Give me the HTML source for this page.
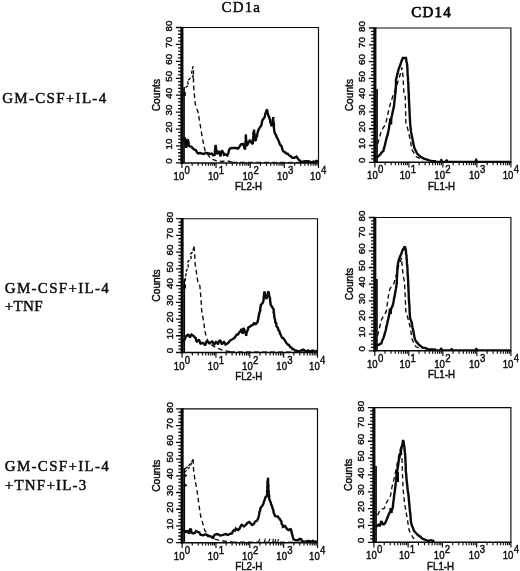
<!DOCTYPE html>
<html lang="en"><head><meta charset="utf-8"><title>Flow cytometry histograms CD1a / CD14</title>
<style>html,body{margin:0;padding:0;background:#fff}body{width:520px;height:571px;overflow:hidden}svg{display:block}</style>
</head><body>
<svg width="520" height="571" viewBox="0 0 520 571">
<rect width="520" height="571" fill="#fff"/>
<text x="221.5" y="12.4" font-family="Liberation Serif, Times New Roman, serif" stroke="#0a0a0a" stroke-width="0.45" font-size="15" letter-spacing="1.15" fill="#0a0a0a">CD1a</text>
<text x="411.2" y="17.0" font-family="Liberation Serif, Times New Roman, serif" stroke="#0a0a0a" stroke-width="0.75" font-size="15" letter-spacing="1.25" fill="#0a0a0a">CD14</text>
<text x="2.2" y="103.0" font-family="Liberation Serif, Times New Roman, serif" stroke="#0a0a0a" stroke-width="0.45" font-size="15" letter-spacing="1.3" fill="#0a0a0a">GM-CSF+IL-4</text>
<text x="4.8" y="292.9" font-family="Liberation Serif, Times New Roman, serif" stroke="#0a0a0a" stroke-width="0.45" font-size="15" letter-spacing="1.3" fill="#0a0a0a">GM-CSF+IL-4</text>
<text x="4.8" y="311.0" font-family="Liberation Serif, Times New Roman, serif" stroke="#0a0a0a" stroke-width="0.45" font-size="15" letter-spacing="0.3" fill="#0a0a0a">+TNF</text>
<text x="4.8" y="471.0" font-family="Liberation Serif, Times New Roman, serif" stroke="#0a0a0a" stroke-width="0.45" font-size="15" letter-spacing="1.3" fill="#0a0a0a">GM-CSF+IL-4</text>
<text x="4.8" y="489.5" font-family="Liberation Serif, Times New Roman, serif" stroke="#0a0a0a" stroke-width="0.45" font-size="15" letter-spacing="1.2" fill="#0a0a0a">+TNF+IL-3</text>
<path d="M181.9 27.5 H318.5 V162.9" fill="none" stroke="#0a0a0a" stroke-width="1.15"/>
<path d="M180.4 162.9 H319.0" fill="none" stroke="#0a0a0a" stroke-width="1.5"/>
<path d="M181.9 26.9 V163.6" fill="none" stroke="#0a0a0a" stroke-width="3.1"/>
<rect x="183.2" y="87.0" width="1.7" height="75.9" fill="#0a0a0a"/>
<path d="M175.9 162.90h6.0M178.1 159.52h3.8M178.1 156.13h3.8M178.1 152.75h3.8M178.1 149.36h3.8M175.9 145.97h6.0M178.1 142.59h3.8M178.1 139.21h3.8M178.1 135.82h3.8M178.1 132.44h3.8M175.9 129.05h6.0M178.1 125.67h3.8M178.1 122.28h3.8M178.1 118.90h3.8M178.1 115.51h3.8M175.9 112.12h6.0M178.1 108.74h3.8M178.1 105.36h3.8M178.1 101.97h3.8M178.1 98.59h3.8M175.9 95.20h6.0M178.1 91.81h3.8M178.1 88.43h3.8M178.1 85.05h3.8M178.1 81.66h3.8M175.9 78.28h6.0M178.1 74.89h3.8M178.1 71.50h3.8M178.1 68.12h3.8M178.1 64.73h3.8M175.9 61.35h6.0M178.1 57.97h3.8M178.1 54.58h3.8M178.1 51.19h3.8M178.1 47.81h3.8M175.9 44.42h6.0M178.1 41.04h3.8M178.1 37.66h3.8M178.1 34.27h3.8M178.1 30.88h3.8M175.9 27.50h6.0" fill="none" stroke="#0a0a0a" stroke-width="1.3"/>
<path d="M181.90 162.9v5.2M192.18 162.9v2.9M198.19 162.9v2.9M202.46 162.9v2.9M205.77 162.9v2.9M208.47 162.9v2.9M210.76 162.9v2.9M212.74 162.9v2.9M214.49 162.9v2.9M216.05 162.9v5.2M226.33 162.9v2.9M232.34 162.9v2.9M236.61 162.9v2.9M239.92 162.9v2.9M242.62 162.9v2.9M244.91 162.9v2.9M246.89 162.9v2.9M248.64 162.9v2.9M250.20 162.9v5.2M260.48 162.9v2.9M266.49 162.9v2.9M270.76 162.9v2.9M274.07 162.9v2.9M276.77 162.9v2.9M279.06 162.9v2.9M281.04 162.9v2.9M282.79 162.9v2.9M284.35 162.9v5.2M294.63 162.9v2.9M300.64 162.9v2.9M304.91 162.9v2.9M308.22 162.9v2.9M310.92 162.9v2.9M313.21 162.9v2.9M315.19 162.9v2.9M316.94 162.9v2.9M318.50 162.9v5.2" fill="none" stroke="#0a0a0a" stroke-width="1.15"/>
<text transform="translate(172.4 160.9) rotate(-90)" text-anchor="middle" font-family="Liberation Sans, Arial, sans-serif" stroke="#0a0a0a" stroke-width="0.42" font-size="9.7" letter-spacing="0.1" fill="#0a0a0a">0</text>
<text transform="translate(172.4 144.0) rotate(-90)" text-anchor="middle" font-family="Liberation Sans, Arial, sans-serif" stroke="#0a0a0a" stroke-width="0.42" font-size="9.7" letter-spacing="0.1" fill="#0a0a0a">10</text>
<text transform="translate(172.4 127.1) rotate(-90)" text-anchor="middle" font-family="Liberation Sans, Arial, sans-serif" stroke="#0a0a0a" stroke-width="0.42" font-size="9.7" letter-spacing="0.1" fill="#0a0a0a">20</text>
<text transform="translate(172.4 110.1) rotate(-90)" text-anchor="middle" font-family="Liberation Sans, Arial, sans-serif" stroke="#0a0a0a" stroke-width="0.42" font-size="9.7" letter-spacing="0.1" fill="#0a0a0a">30</text>
<text transform="translate(172.4 93.2) rotate(-90)" text-anchor="middle" font-family="Liberation Sans, Arial, sans-serif" stroke="#0a0a0a" stroke-width="0.42" font-size="9.7" letter-spacing="0.1" fill="#0a0a0a">40</text>
<text transform="translate(172.4 76.3) rotate(-90)" text-anchor="middle" font-family="Liberation Sans, Arial, sans-serif" stroke="#0a0a0a" stroke-width="0.42" font-size="9.7" letter-spacing="0.1" fill="#0a0a0a">50</text>
<text transform="translate(172.4 59.3) rotate(-90)" text-anchor="middle" font-family="Liberation Sans, Arial, sans-serif" stroke="#0a0a0a" stroke-width="0.42" font-size="9.7" letter-spacing="0.1" fill="#0a0a0a">60</text>
<text transform="translate(172.4 42.2) rotate(-90)" text-anchor="middle" font-family="Liberation Sans, Arial, sans-serif" stroke="#0a0a0a" stroke-width="0.42" font-size="9.7" letter-spacing="0.1" fill="#0a0a0a">70</text>
<text transform="translate(172.4 26.1) rotate(-90)" text-anchor="middle" font-family="Liberation Sans, Arial, sans-serif" stroke="#0a0a0a" stroke-width="0.42" font-size="9.7" letter-spacing="0.1" fill="#0a0a0a">80</text>
<text transform="translate(160.1 95.1) rotate(-90)" text-anchor="middle" font-family="Liberation Sans, Arial, sans-serif" stroke="#0a0a0a" stroke-width="0.42" font-size="10.2" fill="#0a0a0a">Counts</text>
<text transform="translate(173.6 180.0) scale(0.9 1)" font-family="Liberation Sans, Arial, sans-serif" stroke="#0a0a0a" stroke-width="0.42" font-size="10.7" fill="#0a0a0a">10<tspan dy="-6.0" dx="0.3" font-size="10.7">0</tspan></text>
<text transform="translate(207.9 180.0) scale(0.9 1)" font-family="Liberation Sans, Arial, sans-serif" stroke="#0a0a0a" stroke-width="0.42" font-size="10.7" fill="#0a0a0a">10<tspan dy="-6.0" dx="0.3" font-size="10.7">1</tspan></text>
<text transform="translate(242.5 180.0) scale(0.9 1)" font-family="Liberation Sans, Arial, sans-serif" stroke="#0a0a0a" stroke-width="0.42" font-size="10.7" fill="#0a0a0a">10<tspan dy="-6.0" dx="0.3" font-size="10.7">2</tspan></text>
<text transform="translate(277.1 180.0) scale(0.9 1)" font-family="Liberation Sans, Arial, sans-serif" stroke="#0a0a0a" stroke-width="0.42" font-size="10.7" fill="#0a0a0a">10<tspan dy="-6.0" dx="0.3" font-size="10.7">3</tspan></text>
<text transform="translate(310.1 180.0) scale(0.9 1)" font-family="Liberation Sans, Arial, sans-serif" stroke="#0a0a0a" stroke-width="0.42" font-size="10.7" fill="#0a0a0a">10<tspan dy="-6.0" dx="0.3" font-size="10.7">4</tspan></text>
<text transform="translate(235.1 190.2) scale(0.935 1)" font-family="Liberation Sans, Arial, sans-serif" stroke="#0a0a0a" stroke-width="0.42" font-size="10.4" fill="#0a0a0a">FL2-H</text>
<path d="M374.9 28.0 H510.9 V162.3" fill="none" stroke="#0a0a0a" stroke-width="1.15"/>
<path d="M373.4 162.3 H511.4" fill="none" stroke="#0a0a0a" stroke-width="1.5"/>
<path d="M374.9 27.4 V163.0" fill="none" stroke="#0a0a0a" stroke-width="3.1"/>
<rect x="376.2" y="89.0" width="1.7" height="73.3" fill="#0a0a0a"/>
<path d="M368.9 162.30h6.0M371.1 158.94h3.8M371.1 155.59h3.8M371.1 152.23h3.8M371.1 148.87h3.8M368.9 145.51h6.0M371.1 142.16h3.8M371.1 138.80h3.8M371.1 135.44h3.8M371.1 132.08h3.8M368.9 128.73h6.0M371.1 125.37h3.8M371.1 122.01h3.8M371.1 118.65h3.8M371.1 115.30h3.8M368.9 111.94h6.0M371.1 108.58h3.8M371.1 105.22h3.8M371.1 101.87h3.8M371.1 98.51h3.8M368.9 95.15h6.0M371.1 91.79h3.8M371.1 88.44h3.8M371.1 85.08h3.8M371.1 81.72h3.8M368.9 78.36h6.0M371.1 75.00h3.8M371.1 71.65h3.8M371.1 68.29h3.8M371.1 64.93h3.8M368.9 61.58h6.0M371.1 58.22h3.8M371.1 54.86h3.8M371.1 51.50h3.8M371.1 48.14h3.8M368.9 44.79h6.0M371.1 41.43h3.8M371.1 38.07h3.8M371.1 34.72h3.8M371.1 31.36h3.8M368.9 28.00h6.0" fill="none" stroke="#0a0a0a" stroke-width="1.3"/>
<path d="M374.90 162.3v5.2M385.14 162.3v2.9M391.12 162.3v2.9M395.37 162.3v2.9M398.66 162.3v2.9M401.36 162.3v2.9M403.63 162.3v2.9M405.61 162.3v2.9M407.34 162.3v2.9M408.90 162.3v5.2M419.14 162.3v2.9M425.12 162.3v2.9M429.37 162.3v2.9M432.66 162.3v2.9M435.36 162.3v2.9M437.63 162.3v2.9M439.61 162.3v2.9M441.34 162.3v2.9M442.90 162.3v5.2M453.14 162.3v2.9M459.12 162.3v2.9M463.37 162.3v2.9M466.66 162.3v2.9M469.36 162.3v2.9M471.63 162.3v2.9M473.61 162.3v2.9M475.34 162.3v2.9M476.90 162.3v5.2M487.14 162.3v2.9M493.12 162.3v2.9M497.37 162.3v2.9M500.66 162.3v2.9M503.36 162.3v2.9M505.63 162.3v2.9M507.61 162.3v2.9M509.34 162.3v2.9M510.90 162.3v5.2" fill="none" stroke="#0a0a0a" stroke-width="1.15"/>
<text transform="translate(365.4 160.3) rotate(-90)" text-anchor="middle" font-family="Liberation Sans, Arial, sans-serif" stroke="#0a0a0a" stroke-width="0.42" font-size="9.7" letter-spacing="0.1" fill="#0a0a0a">0</text>
<text transform="translate(365.4 143.5) rotate(-90)" text-anchor="middle" font-family="Liberation Sans, Arial, sans-serif" stroke="#0a0a0a" stroke-width="0.42" font-size="9.7" letter-spacing="0.1" fill="#0a0a0a">10</text>
<text transform="translate(365.4 126.7) rotate(-90)" text-anchor="middle" font-family="Liberation Sans, Arial, sans-serif" stroke="#0a0a0a" stroke-width="0.42" font-size="9.7" letter-spacing="0.1" fill="#0a0a0a">20</text>
<text transform="translate(365.4 109.9) rotate(-90)" text-anchor="middle" font-family="Liberation Sans, Arial, sans-serif" stroke="#0a0a0a" stroke-width="0.42" font-size="9.7" letter-spacing="0.1" fill="#0a0a0a">30</text>
<text transform="translate(365.4 93.2) rotate(-90)" text-anchor="middle" font-family="Liberation Sans, Arial, sans-serif" stroke="#0a0a0a" stroke-width="0.42" font-size="9.7" letter-spacing="0.1" fill="#0a0a0a">40</text>
<text transform="translate(365.4 76.4) rotate(-90)" text-anchor="middle" font-family="Liberation Sans, Arial, sans-serif" stroke="#0a0a0a" stroke-width="0.42" font-size="9.7" letter-spacing="0.1" fill="#0a0a0a">50</text>
<text transform="translate(365.4 59.6) rotate(-90)" text-anchor="middle" font-family="Liberation Sans, Arial, sans-serif" stroke="#0a0a0a" stroke-width="0.42" font-size="9.7" letter-spacing="0.1" fill="#0a0a0a">60</text>
<text transform="translate(365.4 42.6) rotate(-90)" text-anchor="middle" font-family="Liberation Sans, Arial, sans-serif" stroke="#0a0a0a" stroke-width="0.42" font-size="9.7" letter-spacing="0.1" fill="#0a0a0a">70</text>
<text transform="translate(365.4 26.6) rotate(-90)" text-anchor="middle" font-family="Liberation Sans, Arial, sans-serif" stroke="#0a0a0a" stroke-width="0.42" font-size="9.7" letter-spacing="0.1" fill="#0a0a0a">80</text>
<text transform="translate(353.1 95.1) rotate(-90)" text-anchor="middle" font-family="Liberation Sans, Arial, sans-serif" stroke="#0a0a0a" stroke-width="0.42" font-size="10.2" fill="#0a0a0a">Counts</text>
<text transform="translate(367.1 179.4) scale(0.9 1)" font-family="Liberation Sans, Arial, sans-serif" stroke="#0a0a0a" stroke-width="0.42" font-size="10.7" fill="#0a0a0a">10<tspan dy="-6.0" dx="0.3" font-size="10.7">0</tspan></text>
<text transform="translate(399.7 179.4) scale(0.9 1)" font-family="Liberation Sans, Arial, sans-serif" stroke="#0a0a0a" stroke-width="0.42" font-size="10.7" fill="#0a0a0a">10<tspan dy="-6.0" dx="0.3" font-size="10.7">1</tspan></text>
<text transform="translate(434.3 179.4) scale(0.9 1)" font-family="Liberation Sans, Arial, sans-serif" stroke="#0a0a0a" stroke-width="0.42" font-size="10.7" fill="#0a0a0a">10<tspan dy="-6.0" dx="0.3" font-size="10.7">2</tspan></text>
<text transform="translate(469.0 179.4) scale(0.9 1)" font-family="Liberation Sans, Arial, sans-serif" stroke="#0a0a0a" stroke-width="0.42" font-size="10.7" fill="#0a0a0a">10<tspan dy="-6.0" dx="0.3" font-size="10.7">3</tspan></text>
<text transform="translate(502.7 179.4) scale(0.9 1)" font-family="Liberation Sans, Arial, sans-serif" stroke="#0a0a0a" stroke-width="0.42" font-size="10.7" fill="#0a0a0a">10<tspan dy="-6.0" dx="0.3" font-size="10.7">4</tspan></text>
<text transform="translate(428.1 189.6) scale(0.935 1)" font-family="Liberation Sans, Arial, sans-serif" stroke="#0a0a0a" stroke-width="0.42" font-size="10.4" fill="#0a0a0a">FL1-H</text>
<path d="M182.1 218.7 H317.5 V352.5" fill="none" stroke="#0a0a0a" stroke-width="1.15"/>
<path d="M180.6 352.5 H318.0" fill="none" stroke="#0a0a0a" stroke-width="1.5"/>
<path d="M182.1 218.1 V353.2" fill="none" stroke="#0a0a0a" stroke-width="3.1"/>
<rect x="183.4" y="279.0" width="1.7" height="73.5" fill="#0a0a0a"/>
<path d="M176.1 352.50h6.0M178.3 349.15h3.8M178.3 345.81h3.8M178.3 342.46h3.8M178.3 339.12h3.8M176.1 335.77h6.0M178.3 332.43h3.8M178.3 329.08h3.8M178.3 325.74h3.8M178.3 322.39h3.8M176.1 319.05h6.0M178.3 315.70h3.8M178.3 312.36h3.8M178.3 309.01h3.8M178.3 305.67h3.8M176.1 302.32h6.0M178.3 298.98h3.8M178.3 295.63h3.8M178.3 292.29h3.8M178.3 288.94h3.8M176.1 285.60h6.0M178.3 282.25h3.8M178.3 278.91h3.8M178.3 275.56h3.8M178.3 272.22h3.8M176.1 268.88h6.0M178.3 265.53h3.8M178.3 262.19h3.8M178.3 258.84h3.8M178.3 255.50h3.8M176.1 252.15h6.0M178.3 248.81h3.8M178.3 245.46h3.8M178.3 242.12h3.8M178.3 238.77h3.8M176.1 235.43h6.0M178.3 232.08h3.8M178.3 228.74h3.8M178.3 225.39h3.8M178.3 222.04h3.8M176.1 218.70h6.0" fill="none" stroke="#0a0a0a" stroke-width="1.3"/>
<path d="M182.10 352.5v5.2M192.29 352.5v2.9M198.25 352.5v2.9M202.48 352.5v2.9M205.76 352.5v2.9M208.44 352.5v2.9M210.71 352.5v2.9M212.67 352.5v2.9M214.40 352.5v2.9M215.95 352.5v5.2M226.14 352.5v2.9M232.10 352.5v2.9M236.33 352.5v2.9M239.61 352.5v2.9M242.29 352.5v2.9M244.56 352.5v2.9M246.52 352.5v2.9M248.25 352.5v2.9M249.80 352.5v5.2M259.99 352.5v2.9M265.95 352.5v2.9M270.18 352.5v2.9M273.46 352.5v2.9M276.14 352.5v2.9M278.41 352.5v2.9M280.37 352.5v2.9M282.10 352.5v2.9M283.65 352.5v5.2M293.84 352.5v2.9M299.80 352.5v2.9M304.03 352.5v2.9M307.31 352.5v2.9M309.99 352.5v2.9M312.26 352.5v2.9M314.22 352.5v2.9M315.95 352.5v2.9M317.50 352.5v5.2" fill="none" stroke="#0a0a0a" stroke-width="1.15"/>
<text transform="translate(172.6 350.5) rotate(-90)" text-anchor="middle" font-family="Liberation Sans, Arial, sans-serif" stroke="#0a0a0a" stroke-width="0.42" font-size="9.7" letter-spacing="0.1" fill="#0a0a0a">0</text>
<text transform="translate(172.6 333.8) rotate(-90)" text-anchor="middle" font-family="Liberation Sans, Arial, sans-serif" stroke="#0a0a0a" stroke-width="0.42" font-size="9.7" letter-spacing="0.1" fill="#0a0a0a">10</text>
<text transform="translate(172.6 317.1) rotate(-90)" text-anchor="middle" font-family="Liberation Sans, Arial, sans-serif" stroke="#0a0a0a" stroke-width="0.42" font-size="9.7" letter-spacing="0.1" fill="#0a0a0a">20</text>
<text transform="translate(172.6 300.3) rotate(-90)" text-anchor="middle" font-family="Liberation Sans, Arial, sans-serif" stroke="#0a0a0a" stroke-width="0.42" font-size="9.7" letter-spacing="0.1" fill="#0a0a0a">30</text>
<text transform="translate(172.6 283.6) rotate(-90)" text-anchor="middle" font-family="Liberation Sans, Arial, sans-serif" stroke="#0a0a0a" stroke-width="0.42" font-size="9.7" letter-spacing="0.1" fill="#0a0a0a">40</text>
<text transform="translate(172.6 266.9) rotate(-90)" text-anchor="middle" font-family="Liberation Sans, Arial, sans-serif" stroke="#0a0a0a" stroke-width="0.42" font-size="9.7" letter-spacing="0.1" fill="#0a0a0a">50</text>
<text transform="translate(172.6 250.1) rotate(-90)" text-anchor="middle" font-family="Liberation Sans, Arial, sans-serif" stroke="#0a0a0a" stroke-width="0.42" font-size="9.7" letter-spacing="0.1" fill="#0a0a0a">60</text>
<text transform="translate(172.6 233.2) rotate(-90)" text-anchor="middle" font-family="Liberation Sans, Arial, sans-serif" stroke="#0a0a0a" stroke-width="0.42" font-size="9.7" letter-spacing="0.1" fill="#0a0a0a">70</text>
<text transform="translate(172.6 217.3) rotate(-90)" text-anchor="middle" font-family="Liberation Sans, Arial, sans-serif" stroke="#0a0a0a" stroke-width="0.42" font-size="9.7" letter-spacing="0.1" fill="#0a0a0a">80</text>
<text transform="translate(160.3 285.5) rotate(-90)" text-anchor="middle" font-family="Liberation Sans, Arial, sans-serif" stroke="#0a0a0a" stroke-width="0.42" font-size="10.2" fill="#0a0a0a">Counts</text>
<text transform="translate(173.8 369.6) scale(0.9 1)" font-family="Liberation Sans, Arial, sans-serif" stroke="#0a0a0a" stroke-width="0.42" font-size="10.7" fill="#0a0a0a">10<tspan dy="-6.0" dx="0.3" font-size="10.7">0</tspan></text>
<text transform="translate(207.8 369.6) scale(0.9 1)" font-family="Liberation Sans, Arial, sans-serif" stroke="#0a0a0a" stroke-width="0.42" font-size="10.7" fill="#0a0a0a">10<tspan dy="-6.0" dx="0.3" font-size="10.7">1</tspan></text>
<text transform="translate(242.1 369.6) scale(0.9 1)" font-family="Liberation Sans, Arial, sans-serif" stroke="#0a0a0a" stroke-width="0.42" font-size="10.7" fill="#0a0a0a">10<tspan dy="-6.0" dx="0.3" font-size="10.7">2</tspan></text>
<text transform="translate(276.3 369.6) scale(0.9 1)" font-family="Liberation Sans, Arial, sans-serif" stroke="#0a0a0a" stroke-width="0.42" font-size="10.7" fill="#0a0a0a">10<tspan dy="-6.0" dx="0.3" font-size="10.7">3</tspan></text>
<text transform="translate(309.1 369.6) scale(0.9 1)" font-family="Liberation Sans, Arial, sans-serif" stroke="#0a0a0a" stroke-width="0.42" font-size="10.7" fill="#0a0a0a">10<tspan dy="-6.0" dx="0.3" font-size="10.7">4</tspan></text>
<text transform="translate(235.3 379.8) scale(0.935 1)" font-family="Liberation Sans, Arial, sans-serif" stroke="#0a0a0a" stroke-width="0.42" font-size="10.4" fill="#0a0a0a">FL2-H</text>
<path d="M374.8 217.5 H510.9 V350.8" fill="none" stroke="#0a0a0a" stroke-width="1.15"/>
<path d="M373.3 350.8 H511.4" fill="none" stroke="#0a0a0a" stroke-width="1.5"/>
<path d="M374.8 216.9 V351.5" fill="none" stroke="#0a0a0a" stroke-width="3.1"/>
<rect x="376.1" y="279.0" width="1.7" height="71.8" fill="#0a0a0a"/>
<path d="M368.8 350.80h6.0M371.0 347.47h3.8M371.0 344.13h3.8M371.0 340.80h3.8M371.0 337.47h3.8M368.8 334.14h6.0M371.0 330.81h3.8M371.0 327.47h3.8M371.0 324.14h3.8M371.0 320.81h3.8M368.8 317.48h6.0M371.0 314.14h3.8M371.0 310.81h3.8M371.0 307.48h3.8M371.0 304.14h3.8M368.8 300.81h6.0M371.0 297.48h3.8M371.0 294.15h3.8M371.0 290.81h3.8M371.0 287.48h3.8M368.8 284.15h6.0M371.0 280.82h3.8M371.0 277.49h3.8M371.0 274.15h3.8M371.0 270.82h3.8M368.8 267.49h6.0M371.0 264.15h3.8M371.0 260.82h3.8M371.0 257.49h3.8M371.0 254.16h3.8M368.8 250.82h6.0M371.0 247.49h3.8M371.0 244.16h3.8M371.0 240.83h3.8M371.0 237.50h3.8M368.8 234.16h6.0M371.0 230.83h3.8M371.0 227.50h3.8M371.0 224.16h3.8M371.0 220.83h3.8M368.8 217.50h6.0" fill="none" stroke="#0a0a0a" stroke-width="1.3"/>
<path d="M374.80 350.8v5.2M385.04 350.8v2.9M391.03 350.8v2.9M395.29 350.8v2.9M398.58 350.8v2.9M401.28 350.8v2.9M403.55 350.8v2.9M405.53 350.8v2.9M407.27 350.8v2.9M408.82 350.8v5.2M419.07 350.8v2.9M425.06 350.8v2.9M429.31 350.8v2.9M432.61 350.8v2.9M435.30 350.8v2.9M437.58 350.8v2.9M439.55 350.8v2.9M441.29 350.8v2.9M442.85 350.8v5.2M453.09 350.8v2.9M459.08 350.8v2.9M463.34 350.8v2.9M466.63 350.8v2.9M469.33 350.8v2.9M471.60 350.8v2.9M473.58 350.8v2.9M475.32 350.8v2.9M476.88 350.8v5.2M487.12 350.8v2.9M493.11 350.8v2.9M497.36 350.8v2.9M500.66 350.8v2.9M503.35 350.8v2.9M505.63 350.8v2.9M507.60 350.8v2.9M509.34 350.8v2.9M510.90 350.8v5.2" fill="none" stroke="#0a0a0a" stroke-width="1.15"/>
<text transform="translate(365.3 348.8) rotate(-90)" text-anchor="middle" font-family="Liberation Sans, Arial, sans-serif" stroke="#0a0a0a" stroke-width="0.42" font-size="9.7" letter-spacing="0.1" fill="#0a0a0a">0</text>
<text transform="translate(365.3 332.1) rotate(-90)" text-anchor="middle" font-family="Liberation Sans, Arial, sans-serif" stroke="#0a0a0a" stroke-width="0.42" font-size="9.7" letter-spacing="0.1" fill="#0a0a0a">10</text>
<text transform="translate(365.3 315.5) rotate(-90)" text-anchor="middle" font-family="Liberation Sans, Arial, sans-serif" stroke="#0a0a0a" stroke-width="0.42" font-size="9.7" letter-spacing="0.1" fill="#0a0a0a">20</text>
<text transform="translate(365.3 298.8) rotate(-90)" text-anchor="middle" font-family="Liberation Sans, Arial, sans-serif" stroke="#0a0a0a" stroke-width="0.42" font-size="9.7" letter-spacing="0.1" fill="#0a0a0a">30</text>
<text transform="translate(365.3 282.1) rotate(-90)" text-anchor="middle" font-family="Liberation Sans, Arial, sans-serif" stroke="#0a0a0a" stroke-width="0.42" font-size="9.7" letter-spacing="0.1" fill="#0a0a0a">40</text>
<text transform="translate(365.3 265.5) rotate(-90)" text-anchor="middle" font-family="Liberation Sans, Arial, sans-serif" stroke="#0a0a0a" stroke-width="0.42" font-size="9.7" letter-spacing="0.1" fill="#0a0a0a">50</text>
<text transform="translate(365.3 248.8) rotate(-90)" text-anchor="middle" font-family="Liberation Sans, Arial, sans-serif" stroke="#0a0a0a" stroke-width="0.42" font-size="9.7" letter-spacing="0.1" fill="#0a0a0a">60</text>
<text transform="translate(365.3 232.0) rotate(-90)" text-anchor="middle" font-family="Liberation Sans, Arial, sans-serif" stroke="#0a0a0a" stroke-width="0.42" font-size="9.7" letter-spacing="0.1" fill="#0a0a0a">70</text>
<text transform="translate(365.3 216.1) rotate(-90)" text-anchor="middle" font-family="Liberation Sans, Arial, sans-serif" stroke="#0a0a0a" stroke-width="0.42" font-size="9.7" letter-spacing="0.1" fill="#0a0a0a">80</text>
<text transform="translate(353.0 284.0) rotate(-90)" text-anchor="middle" font-family="Liberation Sans, Arial, sans-serif" stroke="#0a0a0a" stroke-width="0.42" font-size="10.2" fill="#0a0a0a">Counts</text>
<text transform="translate(367.0 367.9) scale(0.9 1)" font-family="Liberation Sans, Arial, sans-serif" stroke="#0a0a0a" stroke-width="0.42" font-size="10.7" fill="#0a0a0a">10<tspan dy="-6.0" dx="0.3" font-size="10.7">0</tspan></text>
<text transform="translate(399.6 367.9) scale(0.9 1)" font-family="Liberation Sans, Arial, sans-serif" stroke="#0a0a0a" stroke-width="0.42" font-size="10.7" fill="#0a0a0a">10<tspan dy="-6.0" dx="0.3" font-size="10.7">1</tspan></text>
<text transform="translate(434.2 367.9) scale(0.9 1)" font-family="Liberation Sans, Arial, sans-serif" stroke="#0a0a0a" stroke-width="0.42" font-size="10.7" fill="#0a0a0a">10<tspan dy="-6.0" dx="0.3" font-size="10.7">2</tspan></text>
<text transform="translate(469.0 367.9) scale(0.9 1)" font-family="Liberation Sans, Arial, sans-serif" stroke="#0a0a0a" stroke-width="0.42" font-size="10.7" fill="#0a0a0a">10<tspan dy="-6.0" dx="0.3" font-size="10.7">3</tspan></text>
<text transform="translate(502.7 367.9) scale(0.9 1)" font-family="Liberation Sans, Arial, sans-serif" stroke="#0a0a0a" stroke-width="0.42" font-size="10.7" fill="#0a0a0a">10<tspan dy="-6.0" dx="0.3" font-size="10.7">4</tspan></text>
<text transform="translate(428.0 378.1) scale(0.935 1)" font-family="Liberation Sans, Arial, sans-serif" stroke="#0a0a0a" stroke-width="0.42" font-size="10.4" fill="#0a0a0a">FL1-H</text>
<path d="M182.1 408.9 H317.5 V542.7" fill="none" stroke="#0a0a0a" stroke-width="1.15"/>
<path d="M180.6 542.7 H318.0" fill="none" stroke="#0a0a0a" stroke-width="1.5"/>
<path d="M182.1 408.2 V543.4" fill="none" stroke="#0a0a0a" stroke-width="3.1"/>
<rect x="183.4" y="468.0" width="1.7" height="74.7" fill="#0a0a0a"/>
<path d="M176.1 542.70h6.0M178.3 539.35h3.8M178.3 536.01h3.8M178.3 532.66h3.8M178.3 529.32h3.8M176.1 525.97h6.0M178.3 522.62h3.8M178.3 519.28h3.8M178.3 515.93h3.8M178.3 512.58h3.8M176.1 509.24h6.0M178.3 505.89h3.8M178.3 502.55h3.8M178.3 499.20h3.8M178.3 495.85h3.8M176.1 492.51h6.0M178.3 489.16h3.8M178.3 485.81h3.8M178.3 482.47h3.8M178.3 479.12h3.8M176.1 475.78h6.0M178.3 472.43h3.8M178.3 469.08h3.8M178.3 465.74h3.8M178.3 462.39h3.8M176.1 459.04h6.0M178.3 455.70h3.8M178.3 452.35h3.8M178.3 449.01h3.8M178.3 445.66h3.8M176.1 442.31h6.0M178.3 438.97h3.8M178.3 435.62h3.8M178.3 432.27h3.8M178.3 428.93h3.8M176.1 425.58h6.0M178.3 422.24h3.8M178.3 418.89h3.8M178.3 415.54h3.8M178.3 412.20h3.8M176.1 408.85h6.0" fill="none" stroke="#0a0a0a" stroke-width="1.3"/>
<path d="M182.10 542.7v5.2M192.29 542.7v2.9M198.25 542.7v2.9M202.48 542.7v2.9M205.76 542.7v2.9M208.44 542.7v2.9M210.71 542.7v2.9M212.67 542.7v2.9M214.40 542.7v2.9M215.95 542.7v5.2M226.14 542.7v2.9M232.10 542.7v2.9M236.33 542.7v2.9M239.61 542.7v2.9M242.29 542.7v2.9M244.56 542.7v2.9M246.52 542.7v2.9M248.25 542.7v2.9M249.80 542.7v5.2M259.99 542.7v2.9M265.95 542.7v2.9M270.18 542.7v2.9M273.46 542.7v2.9M276.14 542.7v2.9M278.41 542.7v2.9M280.37 542.7v2.9M282.10 542.7v2.9M283.65 542.7v5.2M293.84 542.7v2.9M299.80 542.7v2.9M304.03 542.7v2.9M307.31 542.7v2.9M309.99 542.7v2.9M312.26 542.7v2.9M314.22 542.7v2.9M315.95 542.7v2.9M317.50 542.7v5.2" fill="none" stroke="#0a0a0a" stroke-width="1.15"/>
<text transform="translate(172.6 540.7) rotate(-90)" text-anchor="middle" font-family="Liberation Sans, Arial, sans-serif" stroke="#0a0a0a" stroke-width="0.42" font-size="9.7" letter-spacing="0.1" fill="#0a0a0a">0</text>
<text transform="translate(172.6 524.0) rotate(-90)" text-anchor="middle" font-family="Liberation Sans, Arial, sans-serif" stroke="#0a0a0a" stroke-width="0.42" font-size="9.7" letter-spacing="0.1" fill="#0a0a0a">10</text>
<text transform="translate(172.6 507.2) rotate(-90)" text-anchor="middle" font-family="Liberation Sans, Arial, sans-serif" stroke="#0a0a0a" stroke-width="0.42" font-size="9.7" letter-spacing="0.1" fill="#0a0a0a">20</text>
<text transform="translate(172.6 490.5) rotate(-90)" text-anchor="middle" font-family="Liberation Sans, Arial, sans-serif" stroke="#0a0a0a" stroke-width="0.42" font-size="9.7" letter-spacing="0.1" fill="#0a0a0a">30</text>
<text transform="translate(172.6 473.8) rotate(-90)" text-anchor="middle" font-family="Liberation Sans, Arial, sans-serif" stroke="#0a0a0a" stroke-width="0.42" font-size="9.7" letter-spacing="0.1" fill="#0a0a0a">40</text>
<text transform="translate(172.6 457.0) rotate(-90)" text-anchor="middle" font-family="Liberation Sans, Arial, sans-serif" stroke="#0a0a0a" stroke-width="0.42" font-size="9.7" letter-spacing="0.1" fill="#0a0a0a">50</text>
<text transform="translate(172.6 440.3) rotate(-90)" text-anchor="middle" font-family="Liberation Sans, Arial, sans-serif" stroke="#0a0a0a" stroke-width="0.42" font-size="9.7" letter-spacing="0.1" fill="#0a0a0a">60</text>
<text transform="translate(172.6 423.4) rotate(-90)" text-anchor="middle" font-family="Liberation Sans, Arial, sans-serif" stroke="#0a0a0a" stroke-width="0.42" font-size="9.7" letter-spacing="0.1" fill="#0a0a0a">70</text>
<text transform="translate(172.6 407.5) rotate(-90)" text-anchor="middle" font-family="Liberation Sans, Arial, sans-serif" stroke="#0a0a0a" stroke-width="0.42" font-size="9.7" letter-spacing="0.1" fill="#0a0a0a">80</text>
<text transform="translate(160.3 475.7) rotate(-90)" text-anchor="middle" font-family="Liberation Sans, Arial, sans-serif" stroke="#0a0a0a" stroke-width="0.42" font-size="10.2" fill="#0a0a0a">Counts</text>
<text transform="translate(173.8 559.8) scale(0.9 1)" font-family="Liberation Sans, Arial, sans-serif" stroke="#0a0a0a" stroke-width="0.42" font-size="10.7" fill="#0a0a0a">10<tspan dy="-6.0" dx="0.3" font-size="10.7">0</tspan></text>
<text transform="translate(207.8 559.8) scale(0.9 1)" font-family="Liberation Sans, Arial, sans-serif" stroke="#0a0a0a" stroke-width="0.42" font-size="10.7" fill="#0a0a0a">10<tspan dy="-6.0" dx="0.3" font-size="10.7">1</tspan></text>
<text transform="translate(242.1 559.8) scale(0.9 1)" font-family="Liberation Sans, Arial, sans-serif" stroke="#0a0a0a" stroke-width="0.42" font-size="10.7" fill="#0a0a0a">10<tspan dy="-6.0" dx="0.3" font-size="10.7">2</tspan></text>
<text transform="translate(276.3 559.8) scale(0.9 1)" font-family="Liberation Sans, Arial, sans-serif" stroke="#0a0a0a" stroke-width="0.42" font-size="10.7" fill="#0a0a0a">10<tspan dy="-6.0" dx="0.3" font-size="10.7">3</tspan></text>
<text transform="translate(309.1 559.8) scale(0.9 1)" font-family="Liberation Sans, Arial, sans-serif" stroke="#0a0a0a" stroke-width="0.42" font-size="10.7" fill="#0a0a0a">10<tspan dy="-6.0" dx="0.3" font-size="10.7">4</tspan></text>
<text transform="translate(235.3 570.0) scale(0.935 1)" font-family="Liberation Sans, Arial, sans-serif" stroke="#0a0a0a" stroke-width="0.42" font-size="10.4" fill="#0a0a0a">FL2-H</text>
<path d="M373.9 407.6 H510.9 V542.3" fill="none" stroke="#0a0a0a" stroke-width="1.15"/>
<path d="M372.4 542.3 H511.4" fill="none" stroke="#0a0a0a" stroke-width="1.5"/>
<path d="M373.9 407.0 V543.0" fill="none" stroke="#0a0a0a" stroke-width="3.1"/>
<rect x="375.2" y="466.0" width="1.7" height="76.3" fill="#0a0a0a"/>
<path d="M367.9 542.30h6.0M370.1 538.93h3.8M370.1 535.56h3.8M370.1 532.20h3.8M370.1 528.83h3.8M367.9 525.46h6.0M370.1 522.09h3.8M370.1 518.73h3.8M370.1 515.36h3.8M370.1 511.99h3.8M367.9 508.62h6.0M370.1 505.26h3.8M370.1 501.89h3.8M370.1 498.52h3.8M370.1 495.15h3.8M367.9 491.79h6.0M370.1 488.42h3.8M370.1 485.05h3.8M370.1 481.69h3.8M370.1 478.32h3.8M367.9 474.95h6.0M370.1 471.58h3.8M370.1 468.21h3.8M370.1 464.85h3.8M370.1 461.48h3.8M367.9 458.11h6.0M370.1 454.75h3.8M370.1 451.38h3.8M370.1 448.01h3.8M370.1 444.64h3.8M367.9 441.27h6.0M370.1 437.91h3.8M370.1 434.54h3.8M370.1 431.17h3.8M370.1 427.81h3.8M367.9 424.44h6.0M370.1 421.07h3.8M370.1 417.70h3.8M370.1 414.34h3.8M370.1 410.97h3.8M367.9 407.60h6.0" fill="none" stroke="#0a0a0a" stroke-width="1.3"/>
<path d="M373.90 542.3v5.2M384.21 542.3v2.9M390.24 542.3v2.9M394.52 542.3v2.9M397.84 542.3v2.9M400.55 542.3v2.9M402.84 542.3v2.9M404.83 542.3v2.9M406.58 542.3v2.9M408.15 542.3v5.2M418.46 542.3v2.9M424.49 542.3v2.9M428.77 542.3v2.9M432.09 542.3v2.9M434.80 542.3v2.9M437.09 542.3v2.9M439.08 542.3v2.9M440.83 542.3v2.9M442.40 542.3v5.2M452.71 542.3v2.9M458.74 542.3v2.9M463.02 542.3v2.9M466.34 542.3v2.9M469.05 542.3v2.9M471.34 542.3v2.9M473.33 542.3v2.9M475.08 542.3v2.9M476.65 542.3v5.2M486.96 542.3v2.9M492.99 542.3v2.9M497.27 542.3v2.9M500.59 542.3v2.9M503.30 542.3v2.9M505.59 542.3v2.9M507.58 542.3v2.9M509.33 542.3v2.9M510.90 542.3v5.2" fill="none" stroke="#0a0a0a" stroke-width="1.15"/>
<text transform="translate(364.4 540.3) rotate(-90)" text-anchor="middle" font-family="Liberation Sans, Arial, sans-serif" stroke="#0a0a0a" stroke-width="0.42" font-size="9.7" letter-spacing="0.1" fill="#0a0a0a">0</text>
<text transform="translate(364.4 523.5) rotate(-90)" text-anchor="middle" font-family="Liberation Sans, Arial, sans-serif" stroke="#0a0a0a" stroke-width="0.42" font-size="9.7" letter-spacing="0.1" fill="#0a0a0a">10</text>
<text transform="translate(364.4 506.6) rotate(-90)" text-anchor="middle" font-family="Liberation Sans, Arial, sans-serif" stroke="#0a0a0a" stroke-width="0.42" font-size="9.7" letter-spacing="0.1" fill="#0a0a0a">20</text>
<text transform="translate(364.4 489.8) rotate(-90)" text-anchor="middle" font-family="Liberation Sans, Arial, sans-serif" stroke="#0a0a0a" stroke-width="0.42" font-size="9.7" letter-spacing="0.1" fill="#0a0a0a">30</text>
<text transform="translate(364.4 472.9) rotate(-90)" text-anchor="middle" font-family="Liberation Sans, Arial, sans-serif" stroke="#0a0a0a" stroke-width="0.42" font-size="9.7" letter-spacing="0.1" fill="#0a0a0a">40</text>
<text transform="translate(364.4 456.1) rotate(-90)" text-anchor="middle" font-family="Liberation Sans, Arial, sans-serif" stroke="#0a0a0a" stroke-width="0.42" font-size="9.7" letter-spacing="0.1" fill="#0a0a0a">50</text>
<text transform="translate(364.4 439.3) rotate(-90)" text-anchor="middle" font-family="Liberation Sans, Arial, sans-serif" stroke="#0a0a0a" stroke-width="0.42" font-size="9.7" letter-spacing="0.1" fill="#0a0a0a">60</text>
<text transform="translate(364.4 422.2) rotate(-90)" text-anchor="middle" font-family="Liberation Sans, Arial, sans-serif" stroke="#0a0a0a" stroke-width="0.42" font-size="9.7" letter-spacing="0.1" fill="#0a0a0a">70</text>
<text transform="translate(364.4 406.2) rotate(-90)" text-anchor="middle" font-family="Liberation Sans, Arial, sans-serif" stroke="#0a0a0a" stroke-width="0.42" font-size="9.7" letter-spacing="0.1" fill="#0a0a0a">80</text>
<text transform="translate(352.1 474.8) rotate(-90)" text-anchor="middle" font-family="Liberation Sans, Arial, sans-serif" stroke="#0a0a0a" stroke-width="0.42" font-size="10.2" fill="#0a0a0a">Counts</text>
<text transform="translate(366.1 559.4) scale(0.9 1)" font-family="Liberation Sans, Arial, sans-serif" stroke="#0a0a0a" stroke-width="0.42" font-size="10.7" fill="#0a0a0a">10<tspan dy="-6.0" dx="0.3" font-size="10.7">0</tspan></text>
<text transform="translate(398.9 559.4) scale(0.9 1)" font-family="Liberation Sans, Arial, sans-serif" stroke="#0a0a0a" stroke-width="0.42" font-size="10.7" fill="#0a0a0a">10<tspan dy="-6.0" dx="0.3" font-size="10.7">1</tspan></text>
<text transform="translate(433.8 559.4) scale(0.9 1)" font-family="Liberation Sans, Arial, sans-serif" stroke="#0a0a0a" stroke-width="0.42" font-size="10.7" fill="#0a0a0a">10<tspan dy="-6.0" dx="0.3" font-size="10.7">2</tspan></text>
<text transform="translate(468.8 559.4) scale(0.9 1)" font-family="Liberation Sans, Arial, sans-serif" stroke="#0a0a0a" stroke-width="0.42" font-size="10.7" fill="#0a0a0a">10<tspan dy="-6.0" dx="0.3" font-size="10.7">3</tspan></text>
<text transform="translate(502.7 559.4) scale(0.9 1)" font-family="Liberation Sans, Arial, sans-serif" stroke="#0a0a0a" stroke-width="0.42" font-size="10.7" fill="#0a0a0a">10<tspan dy="-6.0" dx="0.3" font-size="10.7">4</tspan></text>
<text transform="translate(427.1 569.6) scale(0.935 1)" font-family="Liberation Sans, Arial, sans-serif" stroke="#0a0a0a" stroke-width="0.42" font-size="10.4" fill="#0a0a0a">FL1-H</text>
<polyline points="183.5,141.0 184.0,138.9 185.0,137.5 184.9,139.3 185.3,140.6 185.5,141.1 185.6,142.6 185.6,144.1 186.2,146.3 186.2,148.0 186.3,145.7 187.0,145.3 186.9,143.7 186.9,143.0 187.3,141.2 187.7,139.0 187.8,140.0 188.5,142.1 188.7,143.6 189.0,146.0 191.5,146.7 192.6,148.1 193.6,149.0 195.0,150.0 195.9,150.3 197.2,152.6 198.3,153.4 200.0,153.0 201.5,153.3 203.4,153.9 205.0,153.3 206.7,152.9 208.6,153.5 210.0,154.0 211.8,153.6 213.0,155.3 214.6,155.0 214.9,153.2 214.9,151.0 215.2,149.1 215.3,148.9 215.3,147.4 215.6,145.0 215.9,146.9 216.0,148.2 216.5,150.2 216.5,150.9 216.7,151.6 216.8,154.0 218.2,152.8 219.0,151.0 219.4,153.5 220.1,154.4 220.5,156.5 220.9,154.0 221.0,152.8 221.8,151.1 222.0,150.5 222.5,151.3 223.6,153.3 224.0,155.0 225.6,154.4 227.2,155.4 228.0,153.7 228.6,152.4 229.0,150.0 230.0,148.6 231.9,147.9 234.0,148.0 236.1,148.0 237.8,148.6 238.7,148.0 240.0,145.6 241.3,144.2 243.0,144.0 243.7,145.3 244.3,147.8 245.2,149.5 245.2,147.0 245.4,146.2 245.5,145.9 245.6,143.5 245.3,142.4 245.8,141.3 245.9,139.7 245.7,137.3 245.9,135.2 245.9,134.5 245.8,135.3 246.0,137.2 246.0,139.1 246.2,140.1 246.5,141.9 246.9,143.4 246.8,146.0 247.3,144.9 248.2,142.9 248.8,141.8 249.8,140.7 251.6,143.0 252.8,144.0 252.9,142.3 252.8,139.9 253.0,138.9 253.1,138.2 253.7,135.0 253.3,134.4 253.4,132.8 254.1,131.2 253.9,129.5 254.2,131.9 254.1,132.3 254.5,133.8 254.7,136.1 254.5,137.4 255.1,140.0 255.0,141.0 255.8,139.9 256.3,137.4 257.0,136.4 257.4,133.6 257.7,132.2 258.4,129.9 259.2,128.8 259.6,127.6 260.3,127.0 261.3,125.5 261.6,124.0 262.2,121.0 262.8,119.5 263.7,118.6 264.6,117.0 265.0,115.5 265.6,113.0 266.3,111.6 266.6,109.6 267.2,110.2 267.7,113.4 268.0,114.0 268.5,116.0 269.1,116.4 269.4,118.6 270.1,119.7 270.3,122.5 271.2,122.8 271.2,125.0 271.9,126.0 272.0,123.5 272.6,123.3 272.9,120.0 273.0,119.9 273.2,117.2 273.3,118.4 273.1,119.5 273.6,122.7 273.9,123.4 274.0,124.7 273.7,127.1 273.9,127.4 274.1,128.9 274.2,131.0 274.6,132.1 275.1,134.1 276.0,134.7 276.4,136.5 277.4,138.4 278.1,139.4 278.5,140.9 279.2,142.3 279.6,143.8 280.4,145.2 281.4,145.8 281.9,147.6 282.7,150.3 283.3,151.3 284.7,152.0 286.3,153.5 287.6,153.6 289.0,155.4 290.5,156.1 292.3,157.8 294.4,157.7 296.4,156.6 297.6,158.2 298.5,159.5 300.5,161.2 302.1,162.1 303.7,161.5 305.4,161.3 306.9,161.3 308.7,161.3 310.3,161.8 311.5,162.3 313.5,161.6 314.6,162.2 316.4,160.8 318.0,161.6" fill="none" stroke="#0a0a0a" stroke-width="2.4" stroke-linejoin="miter" stroke-miterlimit="1.6" stroke-linecap="butt" />
<polyline points="185.4,87.5 188.5,85.4 187.4,81.0 190.0,78.5 193.3,76.5 191.6,72.8 193.2,66.0" fill="none" stroke="#0a0a0a" stroke-width="1.35" stroke-linejoin="miter" stroke-miterlimit="1.6" stroke-linecap="butt" stroke-dasharray="3.2 1.5" />
<polyline points="193.4,70.0 193.5,84.0 194.3,94.0 195.3,104.3 198.0,112.0 199.3,119.7 202.2,137.0 205.0,150.6 210.8,158.8 218.5,161.6 228.0,161.0 232.0,162.2" fill="none" stroke="#0a0a0a" stroke-width="1.35" stroke-linejoin="miter" stroke-miterlimit="1.6" stroke-linecap="butt" stroke-dasharray="4.6 3.2" />
<rect x="183.2" y="92" width="2.6" height="4" fill="#0a0a0a"/>
<polyline points="232.0,162.2 318.0,162.4" fill="none" stroke="#0a0a0a" stroke-width="1.0" stroke-linejoin="miter" stroke-miterlimit="1.6" stroke-linecap="butt" stroke-dasharray="5 3" />
<polyline points="376.8,157.6 380.0,154.8 381.6,152.5 383.4,150.8 384.1,147.8 384.8,145.6 385.5,142.4 386.1,140.0 386.7,137.4 387.6,134.9 388.2,131.7 388.8,129.2 389.3,125.9 389.8,122.8 390.9,119.7 391.9,115.8 392.6,112.3 393.3,109.3 394.0,106.0 394.3,103.0 394.5,100.6 394.9,97.6 395.2,94.4 395.6,92.0 395.7,89.1 395.9,85.7 396.0,83.2 396.0,80.0 396.7,76.7 397.5,73.6 398.2,71.0 399.0,68.0 400.2,65.3 401.0,62.6 402.8,58.0 406.0,58.0 406.4,61.2 407.0,63.6 407.3,66.8 407.5,69.7 407.5,72.1 407.7,75.4 408.0,77.7 408.1,80.9 408.3,83.3 408.4,86.1 408.5,89.2 408.6,92.0 408.9,94.8 408.8,97.4 409.0,100.4 409.1,102.9 409.3,106.0 409.4,108.8 409.6,112.1 409.7,115.6 409.9,118.5 410.0,121.2 410.2,123.7 410.4,126.3 410.8,129.4 411.0,131.9 411.7,135.0 412.4,138.6 413.0,142.1 413.7,145.1 414.4,148.0 415.8,150.7 417.1,153.5 420.5,156.8 424.5,158.8 427.2,159.6 429.9,160.6 433.1,161.1 436.0,161.2" fill="none" stroke="#0a0a0a" stroke-width="2.4" stroke-linejoin="miter" stroke-miterlimit="1.6" stroke-linecap="butt" />
<polyline points="435.0,161.5 440.3,161.5 441.3,159.2 442.3,161.5 445.6,161.5 446.6,159.6 447.6,161.5 475.2,161.5 476.2,158.9 477.2,161.5 510.5,161.5" fill="none" stroke="#0a0a0a" stroke-width="1.7" stroke-linejoin="miter" stroke-miterlimit="1.6" stroke-linecap="butt" />
<polyline points="377.6,144.0 380.7,133.3 382.8,128.4 385.6,124.2 388.4,111.6 390.5,103.2 393.3,94.8 396.5,86.0 399.4,77.3 402.0,67.5 402.6,72.0 403.1,78.0 403.8,92.0 405.2,94.8 405.9,122.8 407.0,126.0 410.4,140.0 411.7,149.4 416.4,156.8 423.1,160.2" fill="none" stroke="#0a0a0a" stroke-width="1.35" stroke-linejoin="miter" stroke-miterlimit="1.6" stroke-linecap="butt" stroke-dasharray="4.6 3.2" />
<rect x="388.9" y="118.5" width="3.4" height="6" fill="#0a0a0a"/>
<polyline points="183.5,341.6 184.4,339.8 184.9,338.9 185.5,337.0 186.7,335.7 188.0,334.8 188.8,335.3 190.0,337.5 190.9,335.1 191.5,334.5 193.7,336.0 194.3,336.9 195.6,338.0 196.3,340.9 197.0,341.6 199.0,339.5 199.3,340.6 200.0,342.1 200.5,344.0 202.8,342.8 203.9,343.5 205.0,345.5 205.8,343.5 206.0,343.4 206.5,341.0 208.3,341.9 209.6,343.9 210.7,342.3 212.0,341.5 212.9,342.3 214.0,345.0 215.0,343.4 216.0,342.0 217.0,342.7 218.0,344.5 218.8,341.5 219.9,340.5 220.5,341.0 221.0,342.3 222.0,344.5 222.8,342.9 224.0,342.0 225.6,344.5 228.0,343.0 229.0,342.0 230.0,340.6 232.4,339.3 233.6,338.6 234.9,337.4 235.8,335.8 236.8,334.5 237.9,334.6 239.2,332.5 240.4,331.2 241.5,329.0 242.1,329.6 242.3,332.8 242.6,333.5 243.1,332.1 243.2,329.1 243.5,328.0 244.3,329.6 244.8,331.7 245.4,332.8 245.9,334.6 246.3,335.8 246.4,333.6 247.0,331.7 247.7,330.0 248.0,329.3 248.3,327.5 249.2,327.1 251.5,325.5 252.9,324.7 254.0,323.3 256.0,324.5 256.3,323.1 257.4,322.4 257.9,320.4 258.3,318.9 258.3,317.8 258.8,316.4 259.1,313.6 259.6,313.0 259.7,311.9 260.4,310.3 260.2,308.2 260.7,306.6 260.8,305.0 262.6,303.0 263.2,301.6 263.7,299.2 263.6,297.9 263.9,295.4 264.1,295.1 264.1,293.2 264.6,291.5 264.8,292.2 265.5,294.9 265.6,296.5 266.1,297.7 266.5,299.2 266.7,297.6 267.1,296.9 268.0,295.5 268.1,292.1 268.5,291.5 269.1,294.0 269.0,295.1 269.5,297.0 270.0,297.9 270.0,299.4 270.2,300.8 270.4,303.0 270.9,305.4 271.9,306.5 272.7,308.1 273.3,308.8 273.8,310.1 273.5,312.4 274.0,313.2 274.3,316.0 274.4,317.5 274.7,318.4 275.2,320.4 275.2,322.3 276.1,322.7 276.4,325.8 277.4,327.4 278.0,328.0 278.5,330.4 279.3,331.0 280.1,333.8 280.6,334.2 281.1,335.6 282.0,337.7 283.3,338.2 284.5,340.0 285.3,341.2 286.4,343.1 287.7,344.4 289.1,345.1 290.2,347.1 291.4,347.5 292.4,349.1 293.5,349.2 295.1,350.4 297.3,350.8 298.9,351.3 300.5,350.9 303.0,349.6 305.5,350.9 307.1,351.4 308.2,350.5 309.8,351.8 311.4,350.8 313.1,350.5 314.4,351.9 315.9,351.2 317.5,350.9" fill="none" stroke="#0a0a0a" stroke-width="2.4" stroke-linejoin="miter" stroke-miterlimit="1.6" stroke-linecap="butt" />
<polyline points="185.1,281.2 186.4,270.6 188.3,267.7 187.8,262.0 189.3,260.0 191.2,258.0 190.5,254.0 192.2,252.3 194.1,246.5" fill="none" stroke="#0a0a0a" stroke-width="1.35" stroke-linejoin="miter" stroke-miterlimit="1.6" stroke-linecap="butt" stroke-dasharray="3.2 1.6" />
<polyline points="194.1,246.5 194.7,254.2 195.1,263.8 196.6,273.5 198.0,283.0 199.9,286.0 200.5,292.7 201.2,302.3 201.8,312.0 203.7,321.5 204.7,330.2 206.6,338.0 209.0,343.5 216.4,347.8 223.3,350.4 230.0,351.6" fill="none" stroke="#0a0a0a" stroke-width="1.35" stroke-linejoin="miter" stroke-miterlimit="1.6" stroke-linecap="butt" stroke-dasharray="4.6 3.2" />
<rect x="183.4" y="284.5" width="2.6" height="4" fill="#0a0a0a"/>
<polyline points="230.0,351.8 317.5,352.0" fill="none" stroke="#0a0a0a" stroke-width="1.0" stroke-linejoin="miter" stroke-miterlimit="1.6" stroke-linecap="butt" stroke-dasharray="5 3" />
<polyline points="376.5,345.6 378.9,344.6 381.3,343.5 382.2,340.7 383.3,338.1 384.2,335.8 384.9,332.9 385.8,330.3 386.3,327.1 387.1,324.2 387.7,321.1 388.4,318.4 389.0,315.5 389.7,312.6 390.5,310.0 392.6,305.8 393.4,302.4 394.0,298.8 394.7,295.5 395.4,291.8 395.9,288.9 396.3,286.1 396.8,283.4 396.8,280.2 396.9,278.2 397.1,275.0 397.3,272.2 397.3,269.7 397.5,266.6 398.1,262.9 398.9,259.6 400.1,256.5 401.3,253.9 402.4,250.5 404.9,246.5 405.9,250.5 406.0,253.4 406.5,255.4 406.6,258.7 406.9,261.0 406.9,263.7 407.3,266.1 407.5,269.1 407.5,271.8 407.6,273.7 407.9,276.6 408.0,279.2 408.2,282.4 408.3,284.9 408.4,287.6 408.5,290.0 408.7,293.0 408.7,296.0 408.9,299.4 409.1,302.2 409.4,305.8 409.6,309.1 409.6,311.8 409.9,315.3 410.1,318.4 411.6,322.0 412.0,324.6 412.5,327.4 413.1,330.0 413.7,333.0 414.4,336.8 415.0,339.6 416.9,342.4 418.8,344.6 422.7,347.6 425.2,348.0 427.9,349.2 430.4,349.4 433.1,349.4 436.0,349.8" fill="none" stroke="#0a0a0a" stroke-width="2.4" stroke-linejoin="miter" stroke-miterlimit="1.6" stroke-linecap="butt" />
<polyline points="435.0,350.0 440.0,350.0 441.2,348.0 442.4,350.0 450.6,350.0 451.6,348.6 452.6,350.0 475.4,350.0 476.4,348.2 477.4,350.0 510.5,350.0" fill="none" stroke="#0a0a0a" stroke-width="1.7" stroke-linejoin="miter" stroke-miterlimit="1.6" stroke-linecap="butt" />
<polyline points="377.5,335.8 381.3,320.4 382.1,318.4 386.3,311.4 388.4,296.0 389.8,289.0 394.0,283.4 397.0,272.0 399.5,263.0 401.7,258.0 401.7,261.0 403.1,275.0 404.5,282.0 405.2,296.0 405.9,312.8 407.3,316.0 410.2,327.0 412.1,339.6 416.0,346.8 422.0,349.0" fill="none" stroke="#0a0a0a" stroke-width="1.35" stroke-linejoin="miter" stroke-miterlimit="1.6" stroke-linecap="butt" stroke-dasharray="4.6 3.2" />
<rect x="388.6" y="308.5" width="3.4" height="5.5" fill="#0a0a0a"/>
<polyline points="183.5,529.6 184.8,530.8 186.0,532.0 187.7,530.6 188.2,531.9 189.0,533.5 189.8,532.2 189.8,529.7 190.6,528.6 191.0,529.8 191.4,531.9 192.0,533.0 193.5,533.4 194.9,532.7 196.0,531.0 197.5,531.8 199.3,532.5 200.5,534.6 202.0,535.0 203.4,535.3 205.0,534.4 206.6,534.7 208.0,536.0 210.8,536.3 212.1,537.0 213.0,538.5 213.6,536.7 214.5,535.0 216.6,534.0 218.3,534.3 220.0,535.5 222.4,535.2 224.3,534.4 226.1,534.1 228.0,535.0 230.3,533.7 232.0,533.4 232.7,531.6 233.9,530.2 235.1,530.5 235.9,528.6 238.0,530.0 239.2,529.1 239.8,528.2 241.0,525.5 241.7,524.8 244.0,526.5 244.9,525.7 246.2,524.4 247.4,522.9 249.2,522.0 250.5,523.3 252.0,525.0 254.0,523.9 254.7,522.1 255.9,521.1 256.7,521.0 257.9,519.0 258.2,518.2 258.9,515.5 259.1,514.7 259.5,511.6 260.2,510.6 260.3,508.6 260.8,507.5 261.5,507.0 262.8,505.0 263.6,503.1 263.8,502.0 264.6,499.8 265.5,497.1 266.9,496.0 266.9,495.2 267.3,493.4 267.0,491.1 267.3,490.7 267.4,487.9 267.3,486.5 267.6,484.4 267.6,484.5 267.4,483.1 267.7,480.3 268.1,480.0 267.9,477.7 267.9,479.1 268.1,480.7 268.0,483.2 268.4,484.5 268.5,486.1 268.3,487.3 268.4,488.3 268.3,490.7 268.8,491.2 268.5,492.9 268.9,494.0 269.2,496.1 269.0,498.0 269.8,500.3 269.9,500.7 270.6,502.0 271.2,504.7 271.7,505.4 272.3,507.5 272.9,509.2 273.5,510.8 273.5,512.1 274.1,513.9 274.6,514.9 275.2,516.2 278.0,516.5 278.8,518.2 280.0,519.0 280.4,520.1 281.4,521.5 281.6,523.8 282.6,525.1 282.9,526.8 285.0,526.0 285.8,527.2 286.9,529.0 287.7,529.7 288.9,530.1 290.6,528.7 291.2,530.4 291.8,532.8 292.0,534.0 292.4,534.9 292.8,536.8 293.5,539.3 295.1,540.2 296.5,540.1 298.1,540.0 299.8,538.9 301.2,539.3 302.4,541.3 304.0,541.6 305.6,541.8 306.9,541.1 308.3,541.0 310.1,541.2 311.3,541.9 312.9,540.8 314.3,542.0 315.8,541.4 317.5,541.7" fill="none" stroke="#0a0a0a" stroke-width="2.4" stroke-linejoin="miter" stroke-miterlimit="1.6" stroke-linecap="butt" />
<polyline points="185.1,468.8 188.3,466.0 191.2,463.0 193.2,459.2" fill="none" stroke="#0a0a0a" stroke-width="1.35" stroke-linejoin="miter" stroke-miterlimit="1.6" stroke-linecap="butt" stroke-dasharray="3.2 1.4" />
<polyline points="184.6,472.5 187.2,469.5 190.0,466.8 192.0,462.5" fill="none" stroke="#0a0a0a" stroke-width="1.1" stroke-linejoin="miter" stroke-miterlimit="1.6" stroke-linecap="butt" stroke-dasharray="3 1.6" />
<polyline points="193.2,459.2 193.5,468.8 194.7,478.5 196.6,488.0 198.0,497.7 199.3,507.3 200.8,517.0 203.2,524.6 204.7,530.4 208.9,535.5 214.0,539.0 218.5,540.2 226.2,541.4 232.0,542.0" fill="none" stroke="#0a0a0a" stroke-width="1.35" stroke-linejoin="miter" stroke-miterlimit="1.6" stroke-linecap="butt" stroke-dasharray="4.6 3.2" />
<polyline points="232.0,542.0 317.5,542.2" fill="none" stroke="#0a0a0a" stroke-width="1.0" stroke-linejoin="miter" stroke-miterlimit="1.6" stroke-linecap="butt" stroke-dasharray="5 3" />
<path d="M258.4 542 l1.4 -3 M264 542 l1.5 -3.4 M268.7 542 l1.3 -3.2 M272.8 542 l0.6 -3.4 M275.2 542 l0.3 -3 M277.6 542 l1 -3" fill="none" stroke="#0a0a0a" stroke-width="1.1"/>
<path d="M184 473.4 L187.6 475.6 L184 477.8Z M184 483 L187.6 485.2 L184 487.4Z" fill="#0a0a0a"/>
<polyline points="375.8,526.8 378.5,524.8 380.0,526.0 381.3,521.0 383.3,524.8 385.2,523.0 386.6,519.8 388.0,516.2 389.4,513.0 391.0,510.4 392.6,508.4 393.0,505.5 393.2,502.9 393.7,499.7 394.0,497.2 394.3,494.3 394.8,491.4 395.1,488.6 395.4,486.0 395.7,483.1 396.3,480.7 396.5,477.6 396.8,474.7 397.1,472.2 397.5,469.2 398.1,465.5 398.5,462.6 398.9,459.4 399.7,456.5 400.2,453.8 401.0,451.0 401.7,447.1 402.4,444.0 403.1,440.0 403.7,442.8 404.1,445.4 404.5,448.3 404.8,451.8 405.2,455.2 405.3,457.7 405.5,460.8 405.5,463.3 405.8,466.6 405.7,469.0 405.9,472.0 406.3,475.2 406.4,477.6 406.7,480.7 407.0,483.5 407.3,486.0 407.6,489.1 407.9,491.8 408.4,494.3 408.7,497.2 408.9,500.3 409.2,502.6 409.4,505.6 409.7,508.4 409.9,511.0 410.4,514.4 410.6,516.8 410.8,520.3 411.2,523.0 412.0,525.9 413.1,528.3 414.0,530.8 415.9,533.0 417.9,535.0 420.3,536.8 422.7,538.8 426.0,540.2 428.0,541.0 431.0,540.2 434.5,541.4" fill="none" stroke="#0a0a0a" stroke-width="2.4" stroke-linejoin="miter" stroke-miterlimit="1.6" stroke-linecap="butt" />
<polyline points="377.5,515.2 380.4,509.5 384.2,508.4 386.3,502.8 390.5,495.8 391.9,487.4 394.7,476.2 397.5,462.2 399.5,452.0 401.0,447.0 402.0,460.0 402.4,472.0 403.1,488.8 404.5,502.8 407.3,519.0 409.2,530.6 413.1,537.8 417.0,541.0" fill="none" stroke="#0a0a0a" stroke-width="1.35" stroke-linejoin="miter" stroke-miterlimit="1.6" stroke-linecap="butt" stroke-dasharray="4.6 3.2" />
<rect x="389.4" y="508" width="3.4" height="5" fill="#0a0a0a"/>
<rect x="395.6" y="472" width="3.4" height="10" fill="#0a0a0a"/>
</svg>
</body></html>
